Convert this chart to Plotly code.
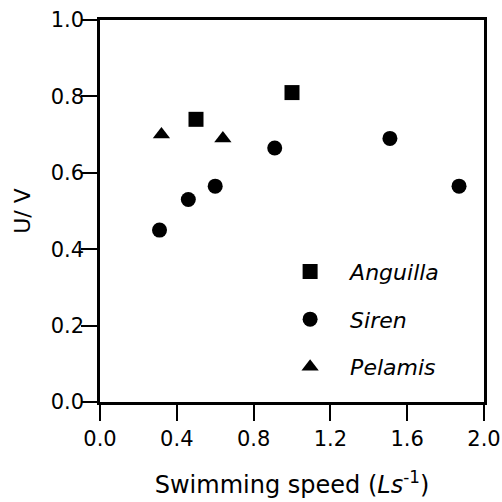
import plotly.graph_objects as go

anguilla_x = [0.5, 1.0]
anguilla_y = [0.74, 0.81]
siren_x = [0.31, 0.46, 0.60, 0.91, 1.51, 1.87]
siren_y = [0.45, 0.53, 0.565, 0.665, 0.69, 0.565]
pelamis_x = [0.32, 0.64]
pelamis_y = [0.70, 0.69]

x_ticks = [0.0, 0.4, 0.8, 1.2, 1.6, 2.0]
y_ticks = [0.0, 0.2, 0.4, 0.6, 0.8, 1.0]

FONT = "DejaVu Sans, Arial, sans-serif"

fig = go.Figure()
fig.add_trace(go.Scatter(x=anguilla_x, y=anguilla_y, mode="markers", name="Anguilla",
                         legendgroup="a",
                         marker=dict(symbol="square", size=15, color="black")))
fig.add_trace(go.Scatter(x=siren_x, y=siren_y, mode="markers", name="Siren",
                         legendgroup="s",
                         marker=dict(symbol="circle", size=15, color="black")))
fig.add_trace(go.Scatter(x=pelamis_x, y=pelamis_y, mode="markers", name="Pelamis",
                         legendgroup="p",
                         marker=dict(symbol="triangle-up", size=15, color="black")))

axis_common = dict(
    showgrid=False, zeroline=False, showline=True, linecolor="black", linewidth=2.5,
    mirror=True, ticks="outside", ticklen=16, tickwidth=2, tickcolor="black",
    automargin=False,
    tickfont=dict(family=FONT, size=21, color="black"),
)

fig.update_layout(
    width=502, height=502,
    margin=dict(l=100, r=18, t=20, b=100),
    paper_bgcolor="white", plot_bgcolor="white",
    showlegend=True,
    legend=dict(x=0.443, y=0.396, xanchor="left", yanchor="top", itemwidth=70,
                bgcolor="rgba(0,0,0,0)", tracegroupgap=16,
                font=dict(family=FONT, size=22, color="black", style="italic")),
    xaxis=dict(range=[0, 2.0], tickvals=x_ticks, ticktext=[f"{v:.1f}" for v in x_ticks],
               title=dict(text="Swimming speed (<i>Ls</i><sup>-1</sup>)",
                          font=dict(family=FONT, size=24, color="black"), standoff=27),
               **axis_common),
    yaxis=dict(range=[0, 1.0], tickvals=y_ticks, ticktext=[f"{v:.1f}" for v in y_ticks],
               ticklabelstandoff=-7,
               title=dict(text="U/ V", font=dict(family=FONT, size=22, color="black"), standoff=14),
               **axis_common),
)

fig.write_html("out.html", config={"displayModeBar": False},
               post_script="document.body.style.margin='0';")
